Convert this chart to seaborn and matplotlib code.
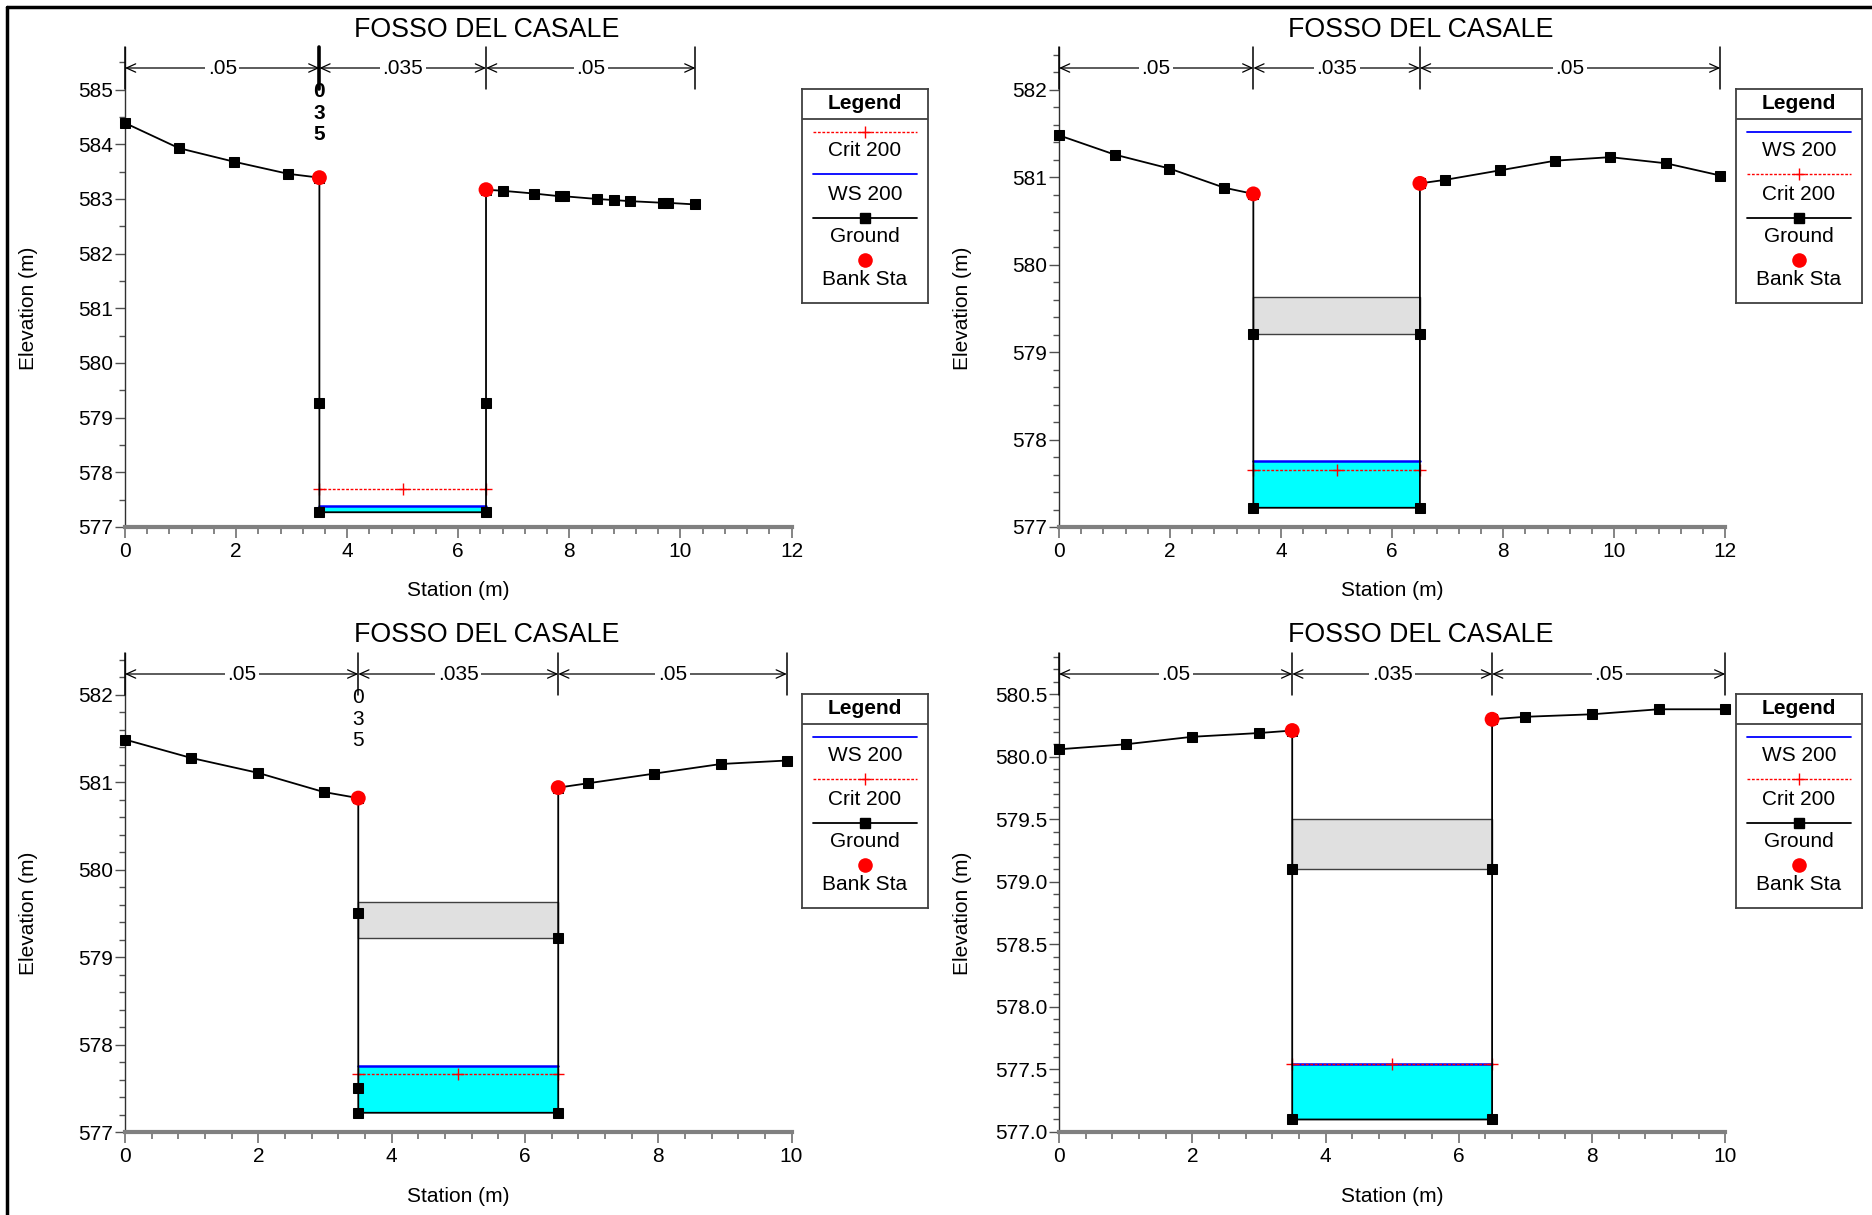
import numpy as np
import pandas as pd
import matplotlib
matplotlib.use("Agg")
import matplotlib.pyplot as plt
import seaborn as sns
from matplotlib.lines import Line2D
from matplotlib.ticker import MultipleLocator, FormatStrFormatter

sns.set_theme(style="white")
plt.rcParams["font.family"] = ["Liberation Sans", "DejaVu Sans"]

TITLE = "FOSSO DEL CASALE"
N_LABELS = [".05", ".035", ".05"]

# ---------------- data ----------------
p1_sta = [0.0, 0.97, 1.97, 2.94, 3.5, 3.5, 3.5, 6.5, 6.5, 6.5, 6.8, 7.36, 7.83, 7.9, 8.5, 8.8, 9.1, 9.69, 9.77, 10.27]
p1_elev = [584.39, 583.93, 583.68, 583.46, 583.39, 579.27, 577.27, 577.27, 579.27, 583.17, 583.15, 583.10,
           583.05, 583.05, 583.00, 582.98, 582.96, 582.93, 582.93, 582.90]
p1_bank_sta = [3.5, 6.5]
p1_bank_elev = [583.39, 583.17]
p1_ws = 577.38
p1_crit = 577.70
p1_bed = 577.27
p1_lid = None
p1_nbounds = [0.0, 3.5, 6.5, 10.27]

p2_sta = [0.0, 1.0, 1.99, 2.98, 3.5, 3.5, 3.5, 6.5, 6.5, 6.5, 6.95, 7.95, 8.94, 9.93, 10.93, 11.91]
p2_elev = [581.48, 581.26, 581.10, 580.88, 580.81, 579.21, 577.22, 577.22, 579.21, 580.93, 580.97, 581.08,
           581.19, 581.23, 581.16, 581.02]
p2_bank_sta = [3.5, 6.5]
p2_bank_elev = [580.81, 580.93]
p2_ws = 577.76
p2_crit = 577.65
p2_bed = 577.22
p2_lid = [579.21, 579.63]
p2_nbounds = [0.0, 3.5, 6.5, 11.91]

p3_sta = [0.0, 0.99, 1.99, 2.98, 3.5, 3.5, 3.5, 3.5, 6.5, 6.5, 6.5, 6.95, 7.94, 8.94, 9.93]
p3_elev = [581.49, 581.28, 581.11, 580.89, 580.82, 579.51, 577.50, 577.22, 577.22, 579.22, 580.94, 580.99,
           581.10, 581.21, 581.25]
p3_bank_sta = [3.5, 6.5]
p3_bank_elev = [580.82, 580.94]
p3_ws = 577.76
p3_crit = 577.66
p3_bed = 577.22
p3_lid = [579.22, 579.63]
p3_nbounds = [0.0, 3.5, 6.5, 9.93]

p4_sta = [0.0, 1.0, 2.0, 3.0, 3.5, 3.5, 3.5, 6.5, 6.5, 6.5, 7.0, 8.0, 9.0, 10.0]
p4_elev = [580.06, 580.10, 580.16, 580.19, 580.21, 579.10, 577.10, 577.10, 579.10, 580.30, 580.32, 580.34,
           580.38, 580.38]
p4_bank_sta = [3.5, 6.5]
p4_bank_elev = [580.21, 580.30]
p4_ws = 577.54
p4_crit = 577.54
p4_bed = 577.10
p4_lid = [579.10, 579.50]
p4_nbounds = [0.0, 3.5, 6.5, 10.0]

crit_sta = [3.5, 5.0, 6.5]

legend_a = ["Crit 200", "WS 200", "Ground", "Bank Sta"]
legend_b = ["WS 200", "Crit 200", "Ground", "Bank Sta"]

panels = [
    dict(sta=p1_sta, elev=p1_elev, bs=p1_bank_sta, be=p1_bank_elev, ws=p1_ws, crit=p1_crit, bed=p1_bed,
         lid=p1_lid, nb=p1_nbounds, xlim=(0, 12), ylim=(577, 585.78), ymaj=1, ymin=0.5, yfmt="%d",
         pos=(125, 47, 791.5, 527), leg=(802, 89, 928, 302.5), title=(487, 28.7), legend=legend_a,
         code035=True, bold035=True),
    dict(sta=p2_sta, elev=p2_elev, bs=p2_bank_sta, be=p2_bank_elev, ws=p2_ws, crit=p2_crit, bed=p2_bed,
         lid=p2_lid, nb=p2_nbounds, xlim=(0, 12), ylim=(577, 582.49), ymaj=1, ymin=0.2, yfmt="%d",
         pos=(1059, 47, 1725.3, 527), leg=(1736, 89, 1862, 302.5), title=(1421, 28.7), legend=legend_b,
         code035=False, bold035=False),
    dict(sta=p3_sta, elev=p3_elev, bs=p3_bank_sta, be=p3_bank_elev, ws=p3_ws, crit=p3_crit, bed=p3_bed,
         lid=p3_lid, nb=p3_nbounds, xlim=(0, 10), ylim=(577, 582.48), ymaj=1, ymin=0.2, yfmt="%d",
         pos=(125, 653, 791.5, 1132), leg=(802, 694, 928, 907.5), title=(487, 634), legend=legend_b,
         code035=True, bold035=False),
    dict(sta=p4_sta, elev=p4_elev, bs=p4_bank_sta, be=p4_bank_elev, ws=p4_ws, crit=p4_crit, bed=p4_bed,
         lid=p4_lid, nb=p4_nbounds, xlim=(0, 10), ylim=(577, 580.83), ymaj=0.5, ymin=0.1, yfmt="%.1f",
         pos=(1059, 653, 1725.3, 1132), leg=(1736, 694, 1862, 907.5), title=(1421, 634), legend=legend_b,
         code035=False, bold035=False),
]

W, H = 1872, 1215
fig = plt.figure(figsize=(W / 100, H / 100), dpi=100)
FS = 15
CRIT_MS = 8.5


def fig_rect(x0, y0, x1, y1):
    return [x0 / W, 1 - y1 / H, (x1 - x0) / W, (y1 - y0) / H]


for p in panels:
    ax = fig.add_axes(fig_rect(*p["pos"]))
    ax.set_facecolor("white")
    bank_l, bank_r = p["bs"][0], p["bs"][1]

    # lid band
    if p["lid"] is not None:
        ax.fill_between([bank_l, bank_r], p["lid"][0], p["lid"][1], facecolor="#E0E0E0",
                        edgecolor="#404040", linewidth=1.0, zorder=1)
    # water
    ax.fill_between([bank_l, bank_r], p["bed"], p["ws"], color="#00FFFF", linewidth=0, zorder=1)
    sns.lineplot(x=[bank_l, bank_r], y=[p["ws"], p["ws"]], color="#0000FF", linewidth=1.8, ax=ax,
                 sort=False, estimator=None, zorder=3)
    sns.lineplot(x=crit_sta, y=[p["crit"]] * len(crit_sta), color="red", linewidth=1.0, ax=ax,
                 sort=False, estimator=None, marker="+", markersize=CRIT_MS, markeredgewidth=1.0,
                 markeredgecolor="red", markerfacecolor="red",
                 linestyle=(0, (2, 1.2)), zorder=4)
    # ground
    gdf = pd.DataFrame({"Station": p["sta"], "Elevation": p["elev"]})
    sns.lineplot(data=gdf, x="Station", y="Elevation", sort=False, estimator=None, color="black",
                 linewidth=1.3, marker="s", markersize=6.5, markeredgecolor="black", ax=ax, zorder=5,
                 clip_on=False)
    sns.scatterplot(x=p["bs"], y=p["be"], color="red", s=115, edgecolor="none", ax=ax, zorder=6)

    ax.set_xlim(*p["xlim"])
    ax.set_ylim(*p["ylim"])
    ax.xaxis.set_major_locator(MultipleLocator(2))
    ax.xaxis.set_minor_locator(MultipleLocator(0.4))
    ax.yaxis.set_major_locator(MultipleLocator(p["ymaj"]))
    ax.yaxis.set_minor_locator(MultipleLocator(p["ymin"]))
    ax.yaxis.set_major_formatter(FormatStrFormatter(p["yfmt"]))
    ax.xaxis.set_major_formatter(FormatStrFormatter("%d"))

    for s in ["top", "right"]:
        ax.spines[s].set_visible(False)
    ax.spines["left"].set_color("#303030")
    ax.spines["left"].set_linewidth(1.0)
    ax.spines["bottom"].set_color("#808080")
    ax.spines["bottom"].set_linewidth(3.0)

    ax.tick_params(axis="x", which="major", direction="out", length=8, width=1.2, color="#707070",
                   labelsize=FS, pad=3.0, bottom=True, labelcolor="black")
    ax.tick_params(axis="x", which="minor", direction="out", length=5, width=1.2, color="#707070",
                   bottom=True)
    ax.tick_params(axis="y", which="major", direction="out", length=7, width=1.0, color="#505050",
                   labelsize=FS, pad=1.5, left=True, labelcolor="black")
    ax.tick_params(axis="y", which="minor", direction="out", length=4, width=1.0, color="#505050",
                   left=True)

    ax.set_xlabel("Station (m)", fontsize=FS, color="black")
    ax.set_ylabel("Elevation (m)", fontsize=FS, color="black")
    x0, y0, x1, y1 = p["pos"]
    aw, ah = x1 - x0, y1 - y0
    ax.xaxis.set_label_coords(0.5, -(64) / ah)
    ax.xaxis.label.set_va("center")
    ax.yaxis.set_label_coords(-(96.5) / aw, 0.456)
    ax.yaxis.label.set_va("center")

    # Manning's n brackets
    tr = ax.get_xaxis_transform()
    arrow_y = 1 - 21 / ah
    line_bot = 1 - 42 / ah
    nb = p["nb"]
    for i, xb in enumerate(nb):
        lw = 2.6 if (p["bold035"] and i == 1) else 1.1
        ax.add_line(Line2D([xb, xb], [line_bot, 1.0], transform=tr, color="black", lw=lw, clip_on=False,
                           zorder=7))
    for i in range(3):
        ax.annotate("", xy=(nb[i + 1], arrow_y), xytext=(nb[i], arrow_y), xycoords=tr, textcoords=tr,
                    arrowprops=dict(arrowstyle="<->,head_length=0.55,head_width=0.25", lw=0.9,
                                    color="black", shrinkA=0, shrinkB=0), annotation_clip=False)
        ax.text((nb[i] + nb[i + 1]) / 2, arrow_y, N_LABELS[i], transform=tr, ha="center", va="center",
                fontsize=FS, color="black", zorder=8,
                bbox=dict(boxstyle="square,pad=0.12", fc="white", ec="none"))
    if p["code035"]:
        wt = "bold" if p["bold035"] else "normal"
        for j, ch in enumerate(["0", "3", "5"]):
            ax.text(nb[1], 1 - (44.5 + 21.7 * j) / ah, ch, transform=tr, ha="center", va="center",
                    fontsize=FS, fontweight=wt, color="black", zorder=8)

    # title
    tx, ty = p["title"]
    fig.text(tx / W, 1 - (ty + 1.5) / H, TITLE, ha="center", va="center", fontsize=19.3, color="black")

    # legend box
    lx0, ly0, lx1, ly1 = p["leg"]
    lax = fig.add_axes(fig_rect(lx0, ly0, lx1, ly1))
    lax.set_xlim(0, 1)
    lax.set_ylim(0, 1)
    lax.set_xticks([])
    lax.set_yticks([])
    for s in lax.spines.values():
        s.set_visible(True)
        s.set_color("#404040")
        s.set_linewidth(1.3)
    lax.text(0.5, 1 - 0.066, "Legend", ha="center", va="center", fontsize=FS, fontweight="bold",
             color="black")
    lax.add_line(Line2D([0, 1], [1 - 0.141, 1 - 0.141], color="#404040", lw=1.3))
    line_ys = [0.2, 0.4, 0.602, 0.8]
    text_ys = [0.29, 0.492, 0.691, 0.891]
    for name, ly, ty2 in zip(p["legend"], line_ys, text_ys):
        yy = 1 - ly
        if name.startswith("Crit"):
            lax.plot([0.085, 0.915], [yy, yy], color="red", lw=1.0, linestyle=(0, (2, 1.2)))
            lax.plot([0.5], [yy], color="red", marker="+", markersize=CRIT_MS, markeredgewidth=1.0)
        elif name.startswith("WS"):
            lax.plot([0.085, 0.915], [yy, yy], color="#0000FF", lw=1.3)
        elif name == "Ground":
            lax.plot([0.085, 0.915], [yy, yy], color="black", lw=1.3)
            lax.plot([0.5], [yy], color="black", marker="s", markersize=6.5)
        else:
            lax.plot([0.5], [yy], color="red", marker="o", markersize=10.5, markeredgewidth=0)
        lax.text(0.5, 1 - ty2, name, ha="center", va="center", fontsize=FS, color="black")

# outer frame (left and top)
fig.add_artist(Line2D([6.5 / W, 6.5 / W], [0, 1 - 6.5 / H], transform=fig.transFigure, color="black", lw=2.5))
fig.add_artist(Line2D([6.5 / W, 1], [1 - 6.5 / H, 1 - 6.5 / H], transform=fig.transFigure, color="black", lw=2.5))

fig.savefig("out.png", dpi=100, facecolor="white")
